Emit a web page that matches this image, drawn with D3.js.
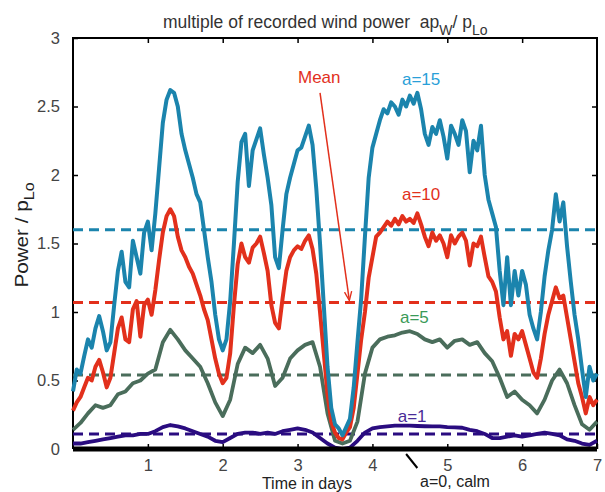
<!DOCTYPE html>
<meta charset="utf-8">
<style>
body { margin: 0; background: #fff; }
text { font-family: "Liberation Sans", Arial, sans-serif; }
.tick text { font-size: 16.5px; fill: #444; }
</style>
<svg width="605" height="492"></svg>
<script src="https://d3js.org/d3.v7.min.js"></script>
<script>

// sample spacing in days
var stepFine = 0.05,
    stepCoarse = 0.1;

// a=15, read every 0.05 day
var a15 = [0.42,0.58,0.55,0.68,0.80,0.74,0.88,0.97,0.86,0.72,0.78,1.05,1.30,1.44,1.22,1.18,1.52,1.40,1.28,1.58,
  1.66,1.45,1.72,2.05,2.38,2.55,2.62,2.60,2.50,2.30,2.18,2.08,1.98,1.86,1.80,1.60,1.40,1.22,0.98,0.80,
  0.72,0.80,1.08,1.50,1.95,2.24,2.30,1.92,2.18,2.26,2.34,2.15,1.98,1.78,1.40,1.32,1.60,1.86,1.98,2.08,
  2.18,2.20,2.28,2.36,2.22,1.90,1.50,1.05,0.60,0.30,0.18,0.15,0.10,0.16,0.22,0.45,0.78,1.10,1.55,1.98,
  2.20,2.30,2.40,2.48,2.45,2.53,2.50,2.44,2.55,2.50,2.58,2.52,2.60,2.48,2.30,2.22,2.35,2.30,2.40,2.28,
  2.12,2.36,2.30,2.22,2.40,2.32,2.02,2.25,2.18,2.36,2.00,1.82,1.72,1.62,1.30,1.05,1.40,1.05,1.30,1.12,
  1.30,1.20,0.98,0.88,0.80,1.00,1.26,1.45,1.60,1.86,1.66,1.80,1.48,1.22,0.98,0.80,0.58,0.38,0.60,0.50,0.55];

// a=10, read every 0.05 day
var a10 = [0.28,0.34,0.38,0.45,0.52,0.50,0.60,0.65,0.56,0.45,0.52,0.70,0.88,0.96,0.80,0.78,1.02,1.08,0.82,1.05,
  1.09,0.98,1.16,1.38,1.58,1.70,1.75,1.70,1.55,1.45,1.40,1.33,1.28,1.20,1.12,1.02,0.94,0.80,0.66,0.55,
  0.48,0.52,0.70,1.05,1.35,1.50,1.40,1.36,1.47,1.50,1.55,1.43,1.30,1.05,0.92,0.88,1.10,1.30,1.40,1.45,
  1.48,1.46,1.52,1.56,1.46,1.28,1.00,0.70,0.40,0.20,0.12,0.08,0.07,0.12,0.16,0.30,0.55,0.80,1.00,1.25,
  1.40,1.55,1.58,1.62,1.66,1.63,1.68,1.64,1.70,1.66,1.68,1.65,1.72,1.64,1.55,1.48,1.58,1.52,1.56,1.50,
  1.40,1.56,1.50,1.55,1.58,1.52,1.34,1.50,1.48,1.55,1.40,1.26,1.22,1.15,0.96,0.80,0.86,0.68,0.84,0.80,
  0.86,0.76,0.66,0.56,0.52,0.66,0.84,0.98,1.08,1.18,1.10,1.12,0.96,0.80,0.64,0.48,0.38,0.26,0.38,0.32,0.36];

// a=5, read every 0.1 day
var a5 = [0.14,0.19,0.26,0.32,0.30,0.32,0.40,0.42,0.48,0.50,0.55,0.58,0.78,0.87,0.80,0.72,0.66,0.60,0.48,0.34,
  0.24,0.36,0.62,0.74,0.70,0.76,0.66,0.46,0.52,0.66,0.72,0.76,0.78,0.60,0.26,0.06,0.04,0.06,0.20,0.55,
  0.74,0.80,0.82,0.83,0.85,0.86,0.84,0.80,0.78,0.80,0.74,0.79,0.80,0.76,0.78,0.70,0.64,0.52,0.38,0.42,
  0.36,0.32,0.26,0.36,0.50,0.58,0.48,0.32,0.18,0.14,0.20];

// a=1, read every 0.1 day
var a1 = [0.04,0.04,0.05,0.06,0.07,0.08,0.09,0.10,0.10,0.11,0.11,0.13,0.16,0.175,0.165,0.15,0.13,0.11,0.09,0.06,
  0.05,0.08,0.11,0.12,0.12,0.11,0.12,0.11,0.13,0.14,0.15,0.14,0.12,0.08,0.04,0.01,0.00,0.01,0.06,0.12,
  0.15,0.16,0.165,0.17,0.17,0.17,0.168,0.166,0.165,0.165,0.16,0.158,0.155,0.14,0.13,0.11,0.08,0.08,0.09,0.10,
  0.09,0.10,0.11,0.12,0.11,0.10,0.07,0.06,0.04,0.03,0.06];

// mean of each series
var means = [1.6, 1.07, 0.54, 0.11];

var colors = ["#1b84ad", "#e2301c", "#4a6d5b", "#2a0c80"];
var labelColors = ["#2a9fd8", "#e2301c", "#3a9a58", "#4a2c98"];
var labels = ["a=15", "a=10", "a=5", "a=1"];
var series = [a15, a10, a5, a1];
var steps = [stepFine, stepFine, stepCoarse, stepCoarse];
var widths = [4, 4, 3.8, 3.8];

var xTicks = [1, 2, 3, 4, 5, 6, 7];
var yTicks = [0, 0.5, 1, 1.5, 2, 2.5, 3];

var svg = d3.select("svg"),
    margin = {top: 38, right: 8, bottom: 43, left: 73},
    width = +svg.attr("width") - margin.left - margin.right,
    height = +svg.attr("height") - margin.top - margin.bottom,
    g = svg.append("g").attr("transform", "translate(" + margin.left + "," + margin.top + ")");

var x = d3.scaleLinear().domain([0, 7]).range([0, width]);
var y = d3.scaleLinear().domain([0, 3]).range([height, 0]);

// axes, ticks point inward
g.append("g")
    .attr("transform", "translate(0," + height + ")")
    .call(d3.axisBottom(x).tickValues(xTicks).tickSize(-5).tickPadding(10).tickFormat(d3.format("d")))
    .call(function(s) { s.select(".domain").remove(); });

g.append("g")
    .call(d3.axisTop(x).tickValues(xTicks.slice(0, 6)).tickSize(-5).tickFormat(""))
    .call(function(s) { s.select(".domain").remove(); });

g.append("g")
    .call(d3.axisLeft(y).tickValues(yTicks).tickSize(-5).tickPadding(13).tickFormat(function(d) { return d; }))
    .call(function(s) { s.select(".domain").remove(); });

g.append("g")
    .attr("transform", "translate(" + width + ",0)")
    .call(d3.axisRight(y).tickValues(yTicks.slice(1, 6)).tickSize(-5).tickFormat(""))
    .call(function(s) { s.select(".domain").remove(); });

g.selectAll(".tick line").attr("stroke", "#000").attr("stroke-width", 1.5);

// box
g.append("path")
    .attr("d", "M0," + height + "V0H" + width + "V" + height)
    .attr("fill", "none")
    .attr("stroke", "#000")
    .attr("stroke-width", 2);

// mean lines
g.selectAll(".mean")
    .data(means)
  .enter().append("line")
    .attr("class", "mean")
    .attr("x1", 0)
    .attr("x2", width)
    .attr("y1", function(d) { return y(d); })
    .attr("y2", function(d) { return y(d); })
    .attr("stroke", function(d, i) { return colors[i]; })
    .attr("stroke-width", 3)
    .attr("stroke-dasharray", "10,6");

// power curves, drawn a=1 first so a=15 ends up on top
var line = d3.line()
    .x(function(d) { return x(d[0]); })
    .y(function(d) { return y(d[1]); });

[3, 2, 1, 0].forEach(function(k) {
  var pts = series[k].map(function(v, i) { return [i * steps[k], v]; });
  g.append("path")
      .datum(pts)
      .attr("fill", "none")
      .attr("stroke", colors[k])
      .attr("stroke-width", widths[k])
      .attr("stroke-linejoin", "round")
      .attr("d", line);
});

// a=0, calm: flat at zero
g.append("line")
    .attr("x1", x(0)).attr("x2", x(7))
    .attr("y1", y(0)).attr("y2", y(0))
    .attr("stroke", "#000")
    .attr("stroke-width", 5);

// curve labels (baseline positions)
var labelPos = [[4.65, 2.66], [4.65, 1.82], [4.56, 0.92], [4.53, 0.2]];
g.selectAll(".lab")
    .data(labels)
  .enter().append("text")
    .attr("x", function(d, i) { return x(labelPos[i][0]); })
    .attr("y", function(d, i) { return y(labelPos[i][1]); })
    .attr("text-anchor", "middle")
    .attr("font-size", 17)
    .attr("fill", function(d, i) { return labelColors[i]; })
    .text(function(d) { return d; });

// Mean arrow
svg.append("defs").append("marker")
    .attr("id", "head")
    .attr("viewBox", "0 0 10 10")
    .attr("refX", 9).attr("refY", 5)
    .attr("markerWidth", 6).attr("markerHeight", 8)
    .attr("orient", "auto")
  .append("path")
    .attr("d", "M0,1L10,5L0,9")
    .attr("fill", "none")
    .attr("stroke", "#e2301c")
    .attr("stroke-width", 1.5);

g.append("text")
    .attr("x", x(3.29))
    .attr("y", y(2.67))
    .attr("text-anchor", "middle")
    .attr("font-size", 17)
    .attr("fill", "#e2301c")
    .text("Mean");

g.append("line")
    .attr("x1", x(3.3)).attr("y1", y(2.6))
    .attr("x2", x(3.69)).attr("y2", y(1.09))
    .attr("stroke", "#e2301c")
    .attr("stroke-width", 1.5)
    .attr("marker-end", "url(#head)");

// a=0 pointer
g.append("line")
    .attr("x1", x(4.45)).attr("y1", y(0) + 5)
    .attr("x2", x(4.6)).attr("y2", y(0) + 19)
    .attr("stroke", "#000")
    .attr("stroke-width", 2);

svg.append("text")
    .attr("x", 455)
    .attr("y", 487)
    .attr("text-anchor", "middle")
    .attr("font-size", 16)
    .attr("fill", "#222")
    .text("a=0, calm");

// axis titles
svg.append("text")
    .attr("x", 307)
    .attr("y", 489)
    .attr("text-anchor", "middle")
    .attr("font-size", 16)
    .attr("fill", "#222")
    .text("Time in days");

var yl = svg.append("text")
    .attr("transform", "translate(28,235) rotate(-90) scale(1.15,1)")
    .attr("text-anchor", "middle")
    .attr("font-size", 18)
    .attr("fill", "#222");
yl.append("tspan").text("Power / p");
yl.append("tspan").attr("dy", 6).attr("font-size", 14).text("Lo");

var title = svg.append("text")
    .attr("x", 163)
    .attr("y", 28)
    .attr("font-size", 17.5)
    .attr("fill", "#333")
    .style("white-space", "pre");
title.append("tspan").text("multiple of recorded wind power  ap");
title.append("tspan").attr("dy", 7).attr("font-size", 14).text("W");
title.append("tspan").attr("dy", -7).text("/ p");
title.append("tspan").attr("dy", 7).attr("font-size", 14).text("Lo");

</script>
